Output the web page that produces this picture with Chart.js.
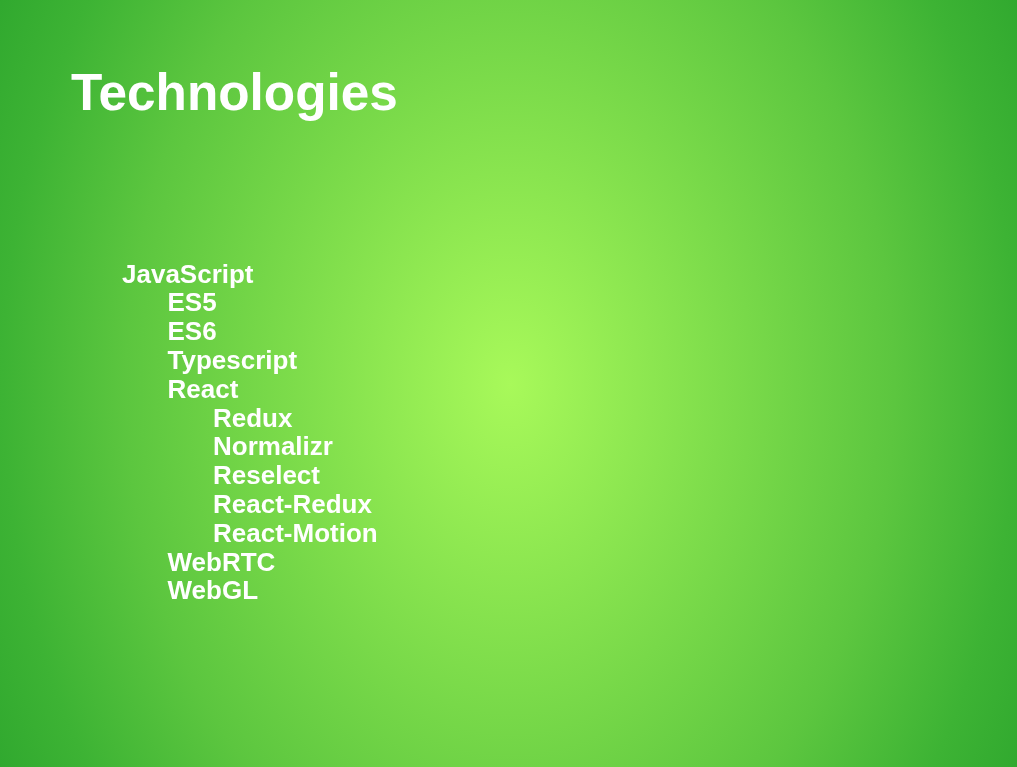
<!DOCTYPE html>
<html>
<head>
<meta charset="utf-8">
<script src="https://cdn.jsdelivr.net/npm/chart.js@4"></script>
<style>
html,body{margin:0;padding:0;width:1017px;height:767px;overflow:hidden;}
#wrap{position:relative;width:1017px;height:767px;}
#bg{position:absolute;left:0;top:0;}
.txt{position:absolute;color:#fff;font-family:"Liberation Sans",Arial,sans-serif;font-weight:bold;white-space:nowrap;}
#title{left:71px;top:67px;font-size:51.3px;line-height:51px;}
#list{left:122px;top:259.6px;font-size:26px;line-height:28.8px;}
</style>
</head>
<body>
<div id="wrap">
<canvas id="bg" width="1017" height="767"></canvas>
<div id="title" class="txt"></div>
<div id="list" class="txt"></div>
</div>
<script>
const titleText = "Technologies";
const items = ["JavaScript","ES5","ES6","Typescript","React","Redux","Normalizr","Reselect","React-Redux","React-Motion","WebRTC","WebGL"];
const levels = [0,1,1,1,1,2,2,2,2,2,1,1];
const gradientStops = [[0,"#a8f95a"],[0.64,"#5cc63f"],[0.845,"#3db334"],[0.968,"#31a92f"],[1,"#2ea62c"]];

document.getElementById('title').textContent = titleText;
const list = document.getElementById('list');
items.forEach((t,i)=>{
  const d = document.createElement('div');
  d.style.paddingLeft = (levels[i]*45.5)+'px';
  d.textContent = t;
  list.appendChild(d);
});

const bgPlugin = {
  id:'bgGradient',
  beforeDraw(chart){
    const ctx = chart.ctx, w = chart.width, h = chart.height;
    const cx = 510, cy = 384, sy = 1.36, r = 600;
    ctx.save();
    ctx.translate(cx, cy);
    ctx.scale(1, sy);
    const g = ctx.createRadialGradient(0,0,0,0,0,r);
    gradientStops.forEach(s=>g.addColorStop(s[0],s[1]));
    ctx.fillStyle = g;
    ctx.fillRect(-cx, -cy/sy - 2, w + 2, h/sy + 4);
    ctx.restore();
  }
};

new Chart(document.getElementById('bg'),{
  type:'scatter',
  data:{datasets:[{data:[]}]},
  options:{
    responsive:false,
    animation:false,
    events:[],
    plugins:{legend:{display:false},tooltip:{enabled:false},title:{display:false}},
    scales:{x:{display:false},y:{display:false}}
  },
  plugins:[bgPlugin]
});
</script>
</body>
</html>
